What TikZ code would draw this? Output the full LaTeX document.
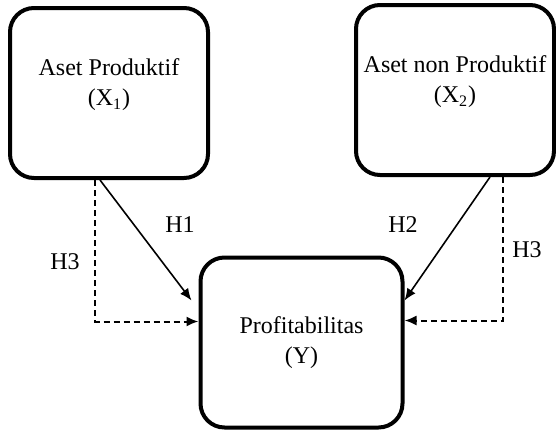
\documentclass[tikz,border=0pt]{standalone}
\usepackage{fontspec}
\setmainfont{Liberation Serif}
\usetikzlibrary{positioning}
\usetikzlibrary{arrows.meta}
\tikzset{
    varnode/.style = {rectangle, rounded corners=12pt, line width=2pt, draw=black, align=center, minimum width=99pt, minimum height=85pt, font=\fontsize{12}{15}\selectfont, text=black},
    labnode/.style = {font=\fontsize{12}{15}\selectfont, text=black},
    edges/.style = {-{Latex[length=6pt,width=5pt]}, line width=0.8pt, black},
    edged/.style = {-{Latex[length=6pt,width=5pt]}, line width=1pt, black, dash pattern=on 3pt off 2pt}, % H3
}
\begin{document}
\begin{tikzpicture}[x=0.5pt, y=-0.5pt]
  \useasboundingbox (0,0) rectangle (556,429);
  \node[varnode] (x1) at (109,93) {Aset Produktif\\(X\textsubscript{1})\\[-4pt]};
  \node[varnode] (x2) at (455,90) {Aset non Produktif\\(X\textsubscript{2})\\[-4pt]};
  \node[varnode, minimum width=101pt] (y) at (301.5,342.5) {Profitabilitas\\(Y)};
  \node[labnode] (h1) at (180,225) {H1};
  \node[labnode] (h2) at (403,225) {H2};
  \node[labnode] (h3a) at (65,262) {H3};
  \node[labnode] (h3b) at (527,250) {H3};
  \draw[edges] ([xshift=-4.5pt]x1.south) -- ([xshift=-3.5pt,yshift=21pt]y.west);
  \draw[edges] ([xshift=17.5pt]x2.south) -- ([yshift=21pt]y.east);
  \draw[edged] ([xshift=-7pt]x1.south) |- ([yshift=10.5pt]y.west);
  \draw[edged] ([xshift=24pt]x2.south) |- ([yshift=11pt]y.east);
\end{tikzpicture}
\end{document}
